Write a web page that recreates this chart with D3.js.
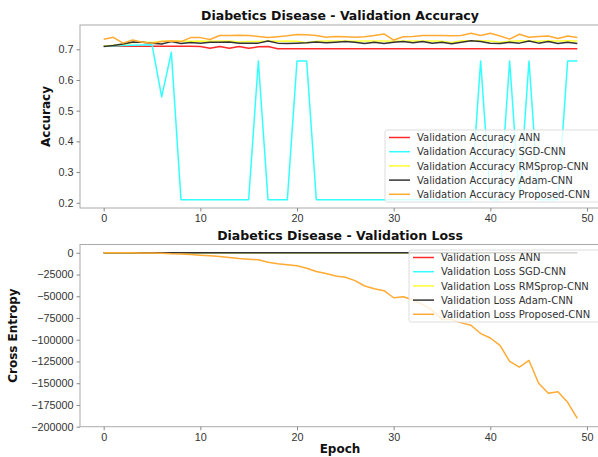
<!DOCTYPE html>
<html>
<head>
<meta charset="utf-8">
<script src="https://cdn.jsdelivr.net/npm/d3@7/dist/d3.min.js"></script>
<style>
  body { margin: 0; background: #fff; }
  svg { font-family: "DejaVu Sans", sans-serif; }
  .tick text { fill: #333; font-size: 10.8px; }
  .tick line { stroke: #888; }
  .domain { display: none; }
  .title { font-weight: bold; font-size: 12.5px; fill: #111; }
  .ylab, .xlab { font-weight: bold; font-size: 12px; fill: #111; }
  .legend text { font-size: 10px; fill: #333; }
</style>
</head>
<body>
<div id="chart"></div>
<script>
const epochs = d3.range(50);

const accAnn = [0.710, 0.710, 0.710, 0.710, 0.710, 0.710, 0.710, 0.710, 0.710, 0.710,
  0.709, 0.703, 0.709, 0.703, 0.709, 0.703, 0.708, 0.709, 0.702, 0.702,
  0.702, 0.702, 0.702, 0.702, 0.702, 0.702, 0.702, 0.702, 0.702, 0.702,
  0.702, 0.702, 0.702, 0.702, 0.702, 0.702, 0.702, 0.702, 0.702, 0.702,
  0.702, 0.702, 0.702, 0.702, 0.702, 0.702, 0.702, 0.702, 0.702, 0.702];
const accSgd = [0.710, 0.711, 0.712, 0.713, 0.714, 0.715, 0.545, 0.690, 0.210, 0.210,
  0.210, 0.210, 0.210, 0.210, 0.210, 0.210, 0.662, 0.210, 0.210, 0.210,
  0.662, 0.662, 0.210, 0.210, 0.210, 0.210, 0.210, 0.210, 0.210, 0.210,
  0.210, 0.210, 0.210, 0.210, 0.210, 0.210, 0.210, 0.210, 0.210, 0.662,
  0.210, 0.210, 0.662, 0.210, 0.662, 0.210, 0.210, 0.210, 0.662, 0.662];
const accRms = [0.710, 0.713, 0.716, 0.722, 0.724, 0.722, 0.726, 0.727, 0.727, 0.726,
  0.727, 0.726, 0.727, 0.727, 0.724, 0.725, 0.725, 0.727, 0.726, 0.727,
  0.726, 0.721, 0.726, 0.727, 0.727, 0.727, 0.726, 0.727, 0.727, 0.727,
  0.726, 0.727, 0.727, 0.727, 0.727, 0.726, 0.722, 0.728, 0.728, 0.728,
  0.727, 0.723, 0.726, 0.728, 0.727, 0.726, 0.728, 0.727, 0.728, 0.727];
const accAdam = [0.709, 0.712, 0.717, 0.724, 0.723, 0.720, 0.717, 0.725, 0.719, 0.722,
  0.720, 0.723, 0.723, 0.724, 0.720, 0.720, 0.720, 0.727, 0.720, 0.719,
  0.720, 0.721, 0.724, 0.721, 0.723, 0.725, 0.723, 0.719, 0.723, 0.719,
  0.723, 0.725, 0.721, 0.725, 0.720, 0.723, 0.718, 0.723, 0.728, 0.725,
  0.720, 0.719, 0.723, 0.720, 0.727, 0.720, 0.725, 0.719, 0.723, 0.719];
const accProp = [0.733, 0.739, 0.720, 0.730, 0.723, 0.720, 0.725, 0.727, 0.725, 0.738,
  0.738, 0.732, 0.745, 0.745, 0.746, 0.745, 0.742, 0.738, 0.741, 0.744,
  0.748, 0.747, 0.745, 0.739, 0.742, 0.741, 0.739, 0.741, 0.745, 0.750,
  0.730, 0.741, 0.742, 0.745, 0.745, 0.745, 0.744, 0.745, 0.752, 0.745,
  0.752, 0.743, 0.733, 0.749, 0.739, 0.742, 0.743, 0.735, 0.743, 0.738];

const lossProp = [0, -20, -50, -100, -150, -200, -500, -1200, -1500, -1900,
  -2700, -3500, -4200, -5400, -6500, -7300, -8100, -10800, -12700, -13900,
  -15000, -17700, -21600, -23900, -26600, -28100, -32000, -38200, -41300, -43600,
  -51700, -50500, -54400, -59400, -66000, -76700, -76700, -80600, -83300, -92900,
  -98000, -106400, -125000, -131500, -123800, -150000, -161600, -159700, -172000, -190500];
const lossSmall = epochs.map(() => 0.6);

const colors = ['#ff2a2a', '#33ffff', '#ffff33', '#333333', '#ffaa33'];
const accNames = ['Validation Accuracy ANN', 'Validation Accuracy SGD-CNN',
  'Validation Accuracy RMSprop-CNN', 'Validation Accuracy Adam-CNN', 'Validation Accuracy Proposed-CNN'];
const lossNames = ['Validation Loss ANN', 'Validation Loss SGD-CNN',
  'Validation Loss RMSprop-CNN', 'Validation Loss Adam-CNN', 'Validation Loss Proposed-CNN'];

const accTicks = [0.2, 0.3, 0.4, 0.5, 0.6, 0.7];
const lossTicks = [0, -25000, -50000, -75000, -100000, -125000, -150000, -175000, -200000];
const xTicks = [0, 10, 20, 30, 40, 50];

const width = 598, height = 457;
const svg = d3.select('#chart').append('svg')
  .attr('width', width).attr('height', height);

const pad = (ext) => {
  const m = (ext[1] - ext[0]) * 0.05;
  return [ext[0] - m, ext[1] + m];
};

const x = d3.scaleLinear().domain(pad([0, 49])).range([80, 601]);

function panel(opts) {
  const y = d3.scaleLinear().domain(pad(d3.extent(opts.series.flat()))).range([opts.bottom, opts.top]);
  const g = svg.append('g');

  opts.series.forEach((s, i) => {
    g.append('path')
      .datum(s)
      .attr('fill', 'none')
      .attr('stroke', colors[i])
      .attr('stroke-width', 1.5)
      .attr('stroke-linejoin', 'round')
      .attr('d', d3.line().x((d, j) => x(epochs[j])).y((d) => y(d)));
  });

  // spines
  g.append('rect')
    .attr('x', 80).attr('y', opts.top)
    .attr('width', 521).attr('height', opts.bottom - opts.top)
    .attr('fill', 'none').attr('stroke', '#aaa').attr('stroke-width', 1);

  g.append('g')
    .attr('transform', `translate(0,${opts.bottom})`)
    .call(d3.axisBottom(x).tickValues(xTicks).tickSize(3.5).tickPadding(3));
  g.append('g')
    .attr('transform', 'translate(80,0)')
    .call(d3.axisLeft(y).tickValues(opts.ticks).tickSize(3.5).tickPadding(3).tickFormat(opts.fmt));

  g.append('text').attr('class', 'title')
    .attr('x', 340).attr('y', opts.top - 5).attr('text-anchor', 'middle')
    .text(opts.title);
  g.append('text').attr('class', 'ylab')
    .attr('transform', `translate(${opts.ylx},${(opts.top + opts.bottom) / 2}) rotate(-90)`)
    .attr('text-anchor', 'middle')
    .text(opts.ylabel);

  // legend
  const lg = g.append('g').attr('class', 'legend')
    .attr('transform', `translate(${opts.lx},${opts.ly})`);
  lg.append('rect')
    .attr('x', 0).attr('y', 0).attr('width', 230).attr('height', 72).attr('rx', 2)
    .attr('fill', 'rgba(255,255,255,0.8)').attr('stroke', '#ddd');
  opts.names.forEach((n, i) => {
    const cy = 7.5 + i * 14.2;
    lg.append('line')
      .attr('x1', 4).attr('x2', 25).attr('y1', cy).attr('y2', cy)
      .attr('stroke', colors[i]).attr('stroke-width', 1.5);
    lg.append('text').attr('x', 32).attr('y', cy + 3.6).text(n);
  });
  return y;
}

panel({
  series: [accAnn, accSgd, accRms, accAdam, accProp],
  top: 25, bottom: 208, ticks: accTicks, fmt: d3.format('.1f'),
  title: 'Diabetics Disease - Validation Accuracy', ylabel: 'Accuracy', ylx: 50,
  names: accNames, lx: 385, ly: 130
});

panel({
  series: [lossSmall, lossSmall, lossSmall, lossSmall, lossProp],
  top: 244.5, bottom: 426.7, ticks: lossTicks, fmt: (d) => d3.format('d')(d).replace('-', '\u2212'),
  title: 'Diabetics Disease - Validation Loss', ylabel: 'Cross Entropy', ylx: 17,
  names: lossNames, lx: 409, ly: 250
});

svg.append('text').attr('class', 'xlab')
  .attr('x', 340).attr('y', 453).attr('text-anchor', 'middle')
  .text('Epoch');
</script>
</body>
</html>
